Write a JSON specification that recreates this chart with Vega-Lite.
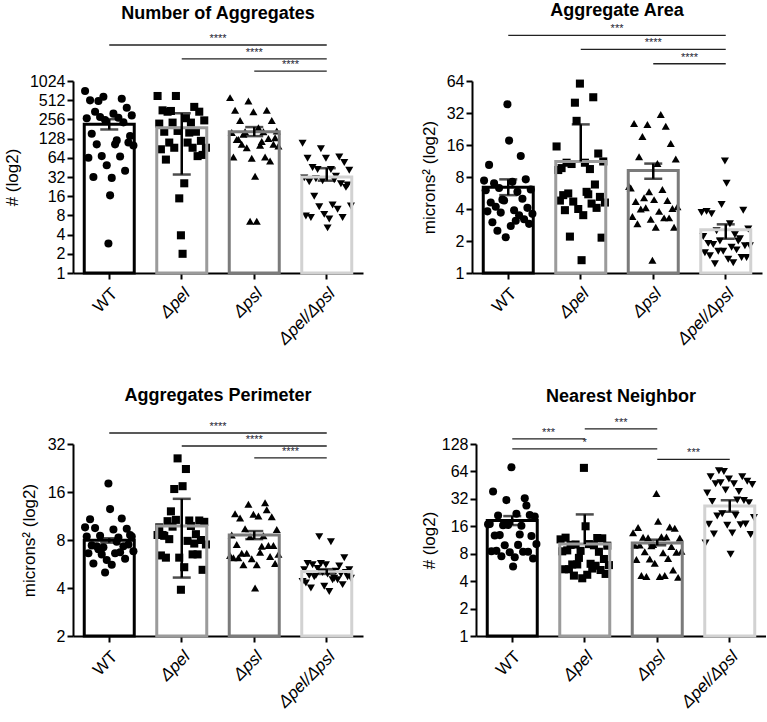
{
"$schema":"https://vega.github.io/schema/vega-lite/v6.json",
"padding":{"left":3,"top":2,"right":0,"bottom":0},
"config":{"font":"Liberation Sans","view":{"stroke":null},
"axis":{"domainColor":"black","domainWidth":2,"tickColor":"black","tickWidth":2,"tickSize":6,"labelColor":"black","labelFontSize":16,"titleFontSize":17,"titleFontWeight":"normal","titleColor":"black","grid":false,"titlePadding":8},
"axisX":{"labelFontSize":17},
"title":{"fontSize":18,"fontWeight":"bold","color":"black"}},
"datasets":{
"p1":[
{"g":"WT","v":714,"r":1},{"g":"WT","v":580,"r":12},{"g":"WT","v":541,"r":23},{"g":"WT","v":509,"r":4},{"g":"WT","v":498,"r":9},{"g":"WT","v":391,"r":26},{"g":"WT","v":338,"r":7},{"g":"WT","v":315,"r":18},{"g":"WT","v":296,"r":29},{"g":"WT","v":280,"r":10},{"g":"WT","v":272,"r":21},{"g":"WT","v":267,"r":2},{"g":"WT","v":250,"r":13},{"g":"WT","v":230,"r":24},{"g":"WT","v":153,"r":5},{"g":"WT","v":141,"r":28},{"g":"WT","v":111,"r":27},{"g":"WT","v":104,"r":8},{"g":"WT","v":104,"r":19},{"g":"WT","v":100,"r":30},{"g":"WT","v":68,"r":11},{"g":"WT","v":67,"r":22},{"g":"WT","v":64,"r":3},{"g":"WT","v":49,"r":14},{"g":"WT","v":40,"r":25},{"g":"WT","v":32,"r":6},{"g":"WT","v":31,"r":17},{"g":"WT","v":16.5,"r":16},{"g":"WT","v":2.9,"r":15},{"g":"WT","v":120,"r":20},
{"g":"Δpel","v":596,"r":1},{"g":"Δpel","v":596,"r":12},{"g":"Δpel","v":402,"r":23},{"g":"Δpel","v":355,"r":4},{"g":"Δpel","v":347,"r":9},{"g":"Δpel","v":338,"r":26},{"g":"Δpel","v":338,"r":7},{"g":"Δpel","v":267,"r":18},{"g":"Δpel","v":247,"r":29},{"g":"Δpel","v":228,"r":10},{"g":"Δpel","v":228,"r":21},{"g":"Δpel","v":220,"r":2},{"g":"Δpel","v":169,"r":13},{"g":"Δpel","v":164,"r":24},{"g":"Δpel","v":164,"r":5},{"g":"Δpel","v":159,"r":20},{"g":"Δpel","v":118,"r":27},{"g":"Δpel","v":111,"r":8},{"g":"Δpel","v":111,"r":19},{"g":"Δpel","v":92,"r":30},{"g":"Δpel","v":92,"r":11},{"g":"Δpel","v":92,"r":22},{"g":"Δpel","v":87,"r":3},{"g":"Δpel","v":71,"r":28},{"g":"Δpel","v":68,"r":25},{"g":"Δpel","v":60,"r":6},{"g":"Δpel","v":25.5,"r":17},{"g":"Δpel","v":14.8,"r":14},{"g":"Δpel","v":3.9,"r":15},{"g":"Δpel","v":2.0,"r":16},
{"g":"Δpsl","v":562,"r":1},{"g":"Δpsl","v":498,"r":12},{"g":"Δpsl","v":355,"r":23},{"g":"Δpsl","v":355,"r":4},{"g":"Δpsl","v":338,"r":15},{"g":"Δpsl","v":247,"r":26},{"g":"Δpsl","v":247,"r":7},{"g":"Δpsl","v":190,"r":18},{"g":"Δpsl","v":169,"r":29},{"g":"Δpsl","v":164,"r":10},{"g":"Δpsl","v":164,"r":21},{"g":"Δpsl","v":159,"r":2},{"g":"Δpsl","v":132,"r":28},{"g":"Δpsl","v":129,"r":24},{"g":"Δpsl","v":124,"r":5},{"g":"Δpsl","v":124,"r":6},{"g":"Δpsl","v":104,"r":27},{"g":"Δpsl","v":104,"r":8},{"g":"Δpsl","v":101,"r":19},{"g":"Δpsl","v":98,"r":30},{"g":"Δpsl","v":92,"r":11},{"g":"Δpsl","v":66,"r":22},{"g":"Δpsl","v":66,"r":3},{"g":"Δpsl","v":63,"r":14},{"g":"Δpsl","v":57,"r":25},{"g":"Δpsl","v":33,"r":16},{"g":"Δpsl","v":6.5,"r":17},{"g":"Δpsl","v":6.5,"r":13},{"g":"Δpsl","v":150,"r":9},{"g":"Δpsl","v":115,"r":20},
{"g":"Δpel/Δpsl","v":108,"r":1},{"g":"Δpel/Δpsl","v":89,"r":12},{"g":"Δpel/Δpsl","v":66,"r":23},{"g":"Δpel/Δpsl","v":63,"r":4},{"g":"Δpel/Δpsl","v":63,"r":15},{"g":"Δpel/Δpsl","v":54,"r":26},{"g":"Δpel/Δpsl","v":45,"r":7},{"g":"Δpel/Δpsl","v":42,"r":18},{"g":"Δpel/Δpsl","v":41,"r":29},{"g":"Δpel/Δpsl","v":42,"r":10},{"g":"Δpel/Δpsl","v":33,"r":21},{"g":"Δpel/Δpsl","v":31,"r":2},{"g":"Δpel/Δpsl","v":28,"r":13},{"g":"Δpel/Δpsl","v":25,"r":24},{"g":"Δpel/Δpsl","v":27,"r":5},{"g":"Δpel/Δpsl","v":24,"r":28},{"g":"Δpel/Δpsl","v":22,"r":27},{"g":"Δpel/Δpsl","v":16,"r":8},{"g":"Δpel/Δpsl","v":11.6,"r":19},{"g":"Δpel/Δpsl","v":11.2,"r":30},{"g":"Δpel/Δpsl","v":10.9,"r":11},{"g":"Δpel/Δpsl","v":10,"r":22},{"g":"Δpel/Δpsl","v":7.8,"r":3},{"g":"Δpel/Δpsl","v":8.3,"r":14},{"g":"Δpel/Δpsl","v":7.4,"r":25},{"g":"Δpel/Δpsl","v":7.4,"r":6},{"g":"Δpel/Δpsl","v":7.0,"r":17},{"g":"Δpel/Δpsl","v":5.1,"r":16},{"g":"Δpel/Δpsl","v":30,"r":9},{"g":"Δpel/Δpsl","v":29,"r":20}
],
"p1b":[{"g":"WT","mean":214,"lo":178,"hi":258},{"g":"Δpel","mean":190,"lo":35,"hi":320},{"g":"Δpsl","mean":164,"lo":140,"hi":194},{"g":"Δpel/Δpsl","mean":32,"lo":28,"hi":44}],
"p1s":[{"from":"WT","to":"Δpel/Δpsl","y":3755,"s":"****","mid":"Δpel","at":"b"},{"from":"Δpel","to":"Δpel/Δpsl","y":2272,"s":"****","mid":"Δpsl","at":"c"},{"from":"Δpsl","to":"Δpel/Δpsl","y":1466,"s":"****","mid":"Δpsl","at":"b"}],
"p2":[
{"g":"WT","v":38.6,"r":15},{"g":"WT","v":17.6,"r":16},{"g":"WT","v":12.6,"r":23},{"g":"WT","v":10.4,"r":4},{"g":"WT","v":7.4,"r":1},{"g":"WT","v":7.6,"r":26},{"g":"WT","v":7.0,"r":7},{"g":"WT","v":7.2,"r":18},{"g":"WT","v":6.1,"r":29},{"g":"WT","v":6.3,"r":10},{"g":"WT","v":5.8,"r":21},{"g":"WT","v":6.0,"r":2},{"g":"WT","v":4.8,"r":13},{"g":"WT","v":5.0,"r":24},{"g":"WT","v":4.6,"r":5},{"g":"WT","v":4.9,"r":12},{"g":"WT","v":4.1,"r":27},{"g":"WT","v":4.2,"r":8},{"g":"WT","v":3.9,"r":19},{"g":"WT","v":3.6,"r":30},{"g":"WT","v":3.7,"r":11},{"g":"WT","v":3.5,"r":22},{"g":"WT","v":3.8,"r":3},{"g":"WT","v":3.1,"r":20},{"g":"WT","v":3.2,"r":25},{"g":"WT","v":3.0,"r":6},{"g":"WT","v":2.77,"r":17},{"g":"WT","v":2.9,"r":28},{"g":"WT","v":2.5,"r":9},{"g":"WT","v":2.17,"r":14},
{"g":"Δpel","v":60.5,"r":15},{"g":"Δpel","v":45,"r":23},{"g":"Δpel","v":40,"r":12},{"g":"Δpel","v":27,"r":13},{"g":"Δpel","v":15.5,"r":1},{"g":"Δpel","v":13.3,"r":26},{"g":"Δpel","v":10.9,"r":7},{"g":"Δpel","v":10.9,"r":18},{"g":"Δpel","v":11.2,"r":29},{"g":"Δpel","v":10.6,"r":10},{"g":"Δpel","v":9.5,"r":21},{"g":"Δpel","v":9.3,"r":2},{"g":"Δpel","v":9.7,"r":4},{"g":"Δpel","v":6.8,"r":24},{"g":"Δpel","v":5.4,"r":5},{"g":"Δpel","v":5.5,"r":20},{"g":"Δpel","v":5.2,"r":27},{"g":"Δpel","v":5.6,"r":8},{"g":"Δpel","v":5.8,"r":19},{"g":"Δpel","v":4.6,"r":30},{"g":"Δpel","v":4.7,"r":11},{"g":"Δpel","v":4.5,"r":22},{"g":"Δpel","v":4.8,"r":3},{"g":"Δpel","v":4.0,"r":14},{"g":"Δpel","v":4.1,"r":25},{"g":"Δpel","v":3.9,"r":6},{"g":"Δpel","v":3.5,"r":17},{"g":"Δpel","v":2.15,"r":28},{"g":"Δpel","v":2.2,"r":9},{"g":"Δpel","v":1.32,"r":16},
{"g":"Δpsl","v":31,"r":20},{"g":"Δpsl","v":25,"r":12},{"g":"Δpsl","v":24,"r":23},{"g":"Δpsl","v":25.5,"r":4},{"g":"Δpsl","v":19.2,"r":9},{"g":"Δpsl","v":16.5,"r":26},{"g":"Δpsl","v":12.4,"r":7},{"g":"Δpsl","v":10.7,"r":18},{"g":"Δpsl","v":11.8,"r":29},{"g":"Δpsl","v":5.1,"r":10},{"g":"Δpsl","v":6.1,"r":21},{"g":"Δpsl","v":6.3,"r":2},{"g":"Δpsl","v":5.8,"r":13},{"g":"Δpsl","v":4.8,"r":24},{"g":"Δpsl","v":4.7,"r":5},{"g":"Δpsl","v":4.9,"r":16},{"g":"Δpsl","v":4.05,"r":27},{"g":"Δpsl","v":4.0,"r":8},{"g":"Δpsl","v":3.8,"r":19},{"g":"Δpsl","v":4.2,"r":30},{"g":"Δpsl","v":4.1,"r":11},{"g":"Δpsl","v":3.3,"r":22},{"g":"Δpsl","v":3.4,"r":3},{"g":"Δpsl","v":3.2,"r":14},{"g":"Δpsl","v":3.3,"r":25},{"g":"Δpsl","v":2.9,"r":6},{"g":"Δpsl","v":2.7,"r":17},{"g":"Δpsl","v":2.7,"r":28},{"g":"Δpsl","v":1.32,"r":15},{"g":"Δpsl","v":6.5,"r":1},
{"g":"Δpel/Δpsl","v":11.3,"r":15},{"g":"Δpel/Δpsl","v":7.0,"r":16},{"g":"Δpel/Δpsl","v":4.4,"r":13},{"g":"Δpel/Δpsl","v":3.8,"r":4},{"g":"Δpel/Δpsl","v":3.7,"r":1},{"g":"Δpel/Δpsl","v":3.9,"r":26},{"g":"Δpel/Δpsl","v":3.6,"r":7},{"g":"Δpel/Δpsl","v":2.9,"r":18},{"g":"Δpel/Δpsl","v":2.6,"r":29},{"g":"Δpel/Δpsl","v":2.5,"r":10},{"g":"Δpel/Δpsl","v":2.3,"r":21},{"g":"Δpel/Δpsl","v":2.2,"r":2},{"g":"Δpel/Δpsl","v":2.0,"r":23},{"g":"Δpel/Δpsl","v":2.1,"r":24},{"g":"Δpel/Δpsl","v":1.9,"r":5},{"g":"Δpel/Δpsl","v":2.0,"r":12},{"g":"Δpel/Δpsl","v":1.8,"r":27},{"g":"Δpel/Δpsl","v":1.85,"r":8},{"g":"Δpel/Δpsl","v":1.75,"r":19},{"g":"Δpel/Δpsl","v":1.8,"r":30},{"g":"Δpel/Δpsl","v":1.6,"r":11},{"g":"Δpel/Δpsl","v":1.65,"r":22},{"g":"Δpel/Δpsl","v":1.55,"r":3},{"g":"Δpel/Δpsl","v":1.6,"r":14},{"g":"Δpel/Δpsl","v":1.4,"r":25},{"g":"Δpel/Δpsl","v":1.45,"r":6},{"g":"Δpel/Δpsl","v":1.35,"r":17},{"g":"Δpel/Δpsl","v":1.4,"r":28},{"g":"Δpel/Δpsl","v":1.22,"r":9},{"g":"Δpel/Δpsl","v":1.25,"r":20}
],
"p2b":[{"g":"WT","mean":6.4,"lo":5.4,"hi":7.6},{"g":"Δpel","mean":11.2,"lo":11.2,"hi":25},{"g":"Δpsl","mean":9.2,"lo":7.7,"hi":10.7},{"g":"Δpel/Δpsl","mean":2.55,"lo":2.1,"hi":2.87}],
"p2s":[{"from":"WT","to":"Δpel/Δpsl","y":172,"s":"***","mid":"Δpel","at":"b"},{"from":"Δpel","to":"Δpel/Δpsl","y":127,"s":"****","mid":"Δpsl","at":"c"},{"from":"Δpsl","to":"Δpel/Δpsl","y":93,"s":"****","mid":"Δpsl","at":"b"}],
"p3":[
{"g":"WT","v":18.1,"r":15},{"g":"WT","v":12.5,"r":16},{"g":"WT","v":10.9,"r":23},{"g":"WT","v":10.8,"r":4},{"g":"WT","v":9.6,"r":1},{"g":"WT","v":9.4,"r":26},{"g":"WT","v":9.5,"r":7},{"g":"WT","v":9.3,"r":18},{"g":"WT","v":8.4,"r":29},{"g":"WT","v":8.5,"r":10},{"g":"WT","v":8.3,"r":21},{"g":"WT","v":8.4,"r":2},{"g":"WT","v":8.6,"r":28},{"g":"WT","v":7.3,"r":24},{"g":"WT","v":7.4,"r":5},{"g":"WT","v":7.2,"r":12},{"g":"WT","v":7.5,"r":27},{"g":"WT","v":7.3,"r":8},{"g":"WT","v":6.6,"r":19},{"g":"WT","v":6.8,"r":30},{"g":"WT","v":6.5,"r":11},{"g":"WT","v":6.7,"r":22},{"g":"WT","v":6.6,"r":3},{"g":"WT","v":6.0,"r":14},{"g":"WT","v":6.1,"r":25},{"g":"WT","v":5.7,"r":6},{"g":"WT","v":5.6,"r":17},{"g":"WT","v":5.0,"r":13},{"g":"WT","v":7.0,"r":9},{"g":"WT","v":7.8,"r":20},
{"g":"Δpel","v":26,"r":13},{"g":"Δpel","v":22.3,"r":18},{"g":"Δpel","v":16.7,"r":11},{"g":"Δpel","v":17.4,"r":16},{"g":"Δpel","v":12.1,"r":9},{"g":"Δpel","v":10.6,"r":26},{"g":"Δpel","v":10.5,"r":7},{"g":"Δpel","v":10.7,"r":12},{"g":"Δpel","v":10.4,"r":29},{"g":"Δpel","v":9.7,"r":10},{"g":"Δpel","v":9.8,"r":21},{"g":"Δpel","v":9.6,"r":2},{"g":"Δpel","v":8.6,"r":1},{"g":"Δpel","v":8.7,"r":24},{"g":"Δpel","v":8.5,"r":5},{"g":"Δpel","v":8.6,"r":4},{"g":"Δpel","v":8.0,"r":27},{"g":"Δpel","v":8.1,"r":8},{"g":"Δpel","v":7.9,"r":19},{"g":"Δpel","v":7.5,"r":30},{"g":"Δpel","v":7.6,"r":23},{"g":"Δpel","v":6.5,"r":22},{"g":"Δpel","v":6.4,"r":3},{"g":"Δpel","v":6.2,"r":14},{"g":"Δpel","v":6.5,"r":25},{"g":"Δpel","v":6.2,"r":6},{"g":"Δpel","v":5.4,"r":17},{"g":"Δpel","v":5.2,"r":28},{"g":"Δpel","v":3.9,"r":15},{"g":"Δpel","v":10.6,"r":20},
{"g":"Δpsl","v":13.7,"r":22},{"g":"Δpsl","v":13.4,"r":12},{"g":"Δpsl","v":12.4,"r":23},{"g":"Δpsl","v":11.7,"r":4},{"g":"Δpsl","v":11.6,"r":15},{"g":"Δpsl","v":11.2,"r":26},{"g":"Δpsl","v":11.0,"r":7},{"g":"Δpsl","v":11.3,"r":18},{"g":"Δpsl","v":9.3,"r":29},{"g":"Δpsl","v":9.4,"r":10},{"g":"Δpsl","v":8.5,"r":21},{"g":"Δpsl","v":8.6,"r":2},{"g":"Δpsl","v":8.4,"r":13},{"g":"Δpsl","v":7.4,"r":24},{"g":"Δpsl","v":7.5,"r":5},{"g":"Δpsl","v":7.3,"r":20},{"g":"Δpsl","v":7.4,"r":27},{"g":"Δpsl","v":6.6,"r":8},{"g":"Δpsl","v":6.7,"r":19},{"g":"Δpsl","v":6.5,"r":30},{"g":"Δpsl","v":6.6,"r":11},{"g":"Δpsl","v":6.4,"r":1},{"g":"Δpsl","v":6.2,"r":3},{"g":"Δpsl","v":6.1,"r":14},{"g":"Δpsl","v":6.3,"r":25},{"g":"Δpsl","v":6.2,"r":6},{"g":"Δpsl","v":5.6,"r":17},{"g":"Δpsl","v":5.7,"r":28},{"g":"Δpsl","v":5.6,"r":9},{"g":"Δpsl","v":4.0,"r":16},
{"g":"Δpel/Δpsl","v":8.4,"r":11},{"g":"Δpel/Δpsl","v":7.8,"r":18},{"g":"Δpel/Δpsl","v":6.2,"r":26},{"g":"Δpel/Δpsl","v":5.7,"r":4},{"g":"Δpel/Δpsl","v":5.6,"r":15},{"g":"Δpel/Δpsl","v":5.5,"r":23},{"g":"Δpel/Δpsl","v":5.6,"r":7},{"g":"Δpel/Δpsl","v":5.7,"r":12},{"g":"Δpel/Δpsl","v":5.2,"r":29},{"g":"Δpel/Δpsl","v":5.3,"r":10},{"g":"Δpel/Δpsl","v":5.1,"r":21},{"g":"Δpel/Δpsl","v":5.2,"r":2},{"g":"Δpel/Δpsl","v":5.0,"r":13},{"g":"Δpel/Δpsl","v":4.9,"r":24},{"g":"Δpel/Δpsl","v":4.8,"r":5},{"g":"Δpel/Δpsl","v":4.9,"r":16},{"g":"Δpel/Δpsl","v":5.0,"r":27},{"g":"Δpel/Δpsl","v":4.7,"r":8},{"g":"Δpel/Δpsl","v":4.5,"r":19},{"g":"Δpel/Δpsl","v":4.6,"r":30},{"g":"Δpel/Δpsl","v":4.4,"r":1},{"g":"Δpel/Δpsl","v":4.5,"r":22},{"g":"Δpel/Δpsl","v":4.3,"r":3},{"g":"Δpel/Δpsl","v":4.1,"r":14},{"g":"Δpel/Δpsl","v":4.2,"r":25},{"g":"Δpel/Δpsl","v":4.0,"r":6},{"g":"Δpel/Δpsl","v":3.8,"r":17},{"g":"Δpel/Δpsl","v":4.7,"r":28},{"g":"Δpel/Δpsl","v":4.8,"r":9},{"g":"Δpel/Δpsl","v":4.6,"r":20}
],
"p3b":[{"g":"WT","mean":7.96,"lo":7.7,"hi":8.2},{"g":"Δpel","mean":9.8,"lo":4.65,"hi":14.5},{"g":"Δpsl","mean":8.6,"lo":8.1,"hi":9.1},{"g":"Δpel/Δpsl","mean":5.07,"lo":4.9,"hi":5.25}],
"p3s":[{"from":"WT","to":"Δpel/Δpsl","y":37.5,"s":"****","mid":"Δpel","at":"b"},{"from":"Δpel","to":"Δpel/Δpsl","y":31.1,"s":"****","mid":"Δpsl","at":"c"},{"from":"Δpsl","to":"Δpel/Δpsl","y":26.2,"s":"****","mid":"Δpsl","at":"b"}],
"p4":[
{"g":"WT","v":71,"r":15},{"g":"WT","v":38.6,"r":4},{"g":"WT","v":31,"r":12},{"g":"WT","v":32.5,"r":23},{"g":"WT","v":27,"r":24},{"g":"WT","v":21.3,"r":26},{"g":"WT","v":21,"r":7},{"g":"WT","v":22,"r":18},{"g":"WT","v":20.5,"r":29},{"g":"WT","v":16.4,"r":10},{"g":"WT","v":16.2,"r":21},{"g":"WT","v":17,"r":2},{"g":"WT","v":16.5,"r":13},{"g":"WT","v":16.8,"r":1},{"g":"WT","v":12.7,"r":5},{"g":"WT","v":13,"r":20},{"g":"WT","v":12.5,"r":27},{"g":"WT","v":12.8,"r":8},{"g":"WT","v":10,"r":19},{"g":"WT","v":10.2,"r":30},{"g":"WT","v":9.9,"r":11},{"g":"WT","v":8.4,"r":22},{"g":"WT","v":8.5,"r":3},{"g":"WT","v":8.3,"r":14},{"g":"WT","v":8.4,"r":25},{"g":"WT","v":8.6,"r":6},{"g":"WT","v":7.3,"r":17},{"g":"WT","v":7.1,"r":28},{"g":"WT","v":7.5,"r":9},{"g":"WT","v":5.8,"r":16},
{"g":"Δpel","v":70,"r":15},{"g":"Δpel","v":16,"r":16},{"g":"Δpel","v":11.9,"r":23},{"g":"Δpel","v":12,"r":4},{"g":"Δpel","v":11.5,"r":1},{"g":"Δpel","v":11.8,"r":26},{"g":"Δpel","v":10,"r":7},{"g":"Δpel","v":10.2,"r":18},{"g":"Δpel","v":9.8,"r":29},{"g":"Δpel","v":10.1,"r":10},{"g":"Δpel","v":9.9,"r":21},{"g":"Δpel","v":8.5,"r":2},{"g":"Δpel","v":8.6,"r":13},{"g":"Δpel","v":8.4,"r":24},{"g":"Δpel","v":8.7,"r":5},{"g":"Δpel","v":7.2,"r":12},{"g":"Δpel","v":7.0,"r":27},{"g":"Δpel","v":6.1,"r":8},{"g":"Δpel","v":6.2,"r":19},{"g":"Δpel","v":6.0,"r":30},{"g":"Δpel","v":6.1,"r":11},{"g":"Δpel","v":5.9,"r":22},{"g":"Δpel","v":5.4,"r":3},{"g":"Δpel","v":5.5,"r":20},{"g":"Δpel","v":5.3,"r":25},{"g":"Δpel","v":5.4,"r":6},{"g":"Δpel","v":4.7,"r":17},{"g":"Δpel","v":4.8,"r":28},{"g":"Δpel","v":4.6,"r":9},{"g":"Δpel","v":4.3,"r":14},
{"g":"Δpsl","v":36.6,"r":15},{"g":"Δpsl","v":18.2,"r":16},{"g":"Δpsl","v":15.7,"r":23},{"g":"Δpsl","v":15.5,"r":4},{"g":"Δpsl","v":13.6,"r":1},{"g":"Δpsl","v":15.2,"r":26},{"g":"Δpsl","v":12.1,"r":7},{"g":"Δpsl","v":12.3,"r":18},{"g":"Δpsl","v":11.9,"r":29},{"g":"Δpsl","v":12.0,"r":10},{"g":"Δpsl","v":12.2,"r":21},{"g":"Δpsl","v":9.9,"r":2},{"g":"Δpsl","v":10.1,"r":13},{"g":"Δpsl","v":9.6,"r":24},{"g":"Δpsl","v":10.0,"r":5},{"g":"Δpsl","v":9.8,"r":12},{"g":"Δpsl","v":8.3,"r":27},{"g":"Δpsl","v":8.4,"r":8},{"g":"Δpsl","v":8.2,"r":19},{"g":"Δpsl","v":8.5,"r":30},{"g":"Δpsl","v":7.0,"r":11},{"g":"Δpsl","v":7.1,"r":22},{"g":"Δpsl","v":6.9,"r":3},{"g":"Δpsl","v":6.3,"r":14},{"g":"Δpsl","v":5.3,"r":25},{"g":"Δpsl","v":4.6,"r":6},{"g":"Δpsl","v":4.5,"r":17},{"g":"Δpsl","v":4.4,"r":28},{"g":"Δpsl","v":4.5,"r":9},{"g":"Δpsl","v":4.6,"r":20},
{"g":"Δpel/Δpsl","v":65,"r":9},{"g":"Δpel/Δpsl","v":64,"r":12},{"g":"Δpel/Δpsl","v":56,"r":23},{"g":"Δpel/Δpsl","v":56,"r":4},{"g":"Δpel/Δpsl","v":53,"r":15},{"g":"Δpel/Δpsl","v":50,"r":26},{"g":"Δpel/Δpsl","v":47,"r":7},{"g":"Δpel/Δpsl","v":47,"r":18},{"g":"Δpel/Δpsl","v":46,"r":29},{"g":"Δpel/Δpsl","v":48,"r":10},{"g":"Δpel/Δpsl","v":38.6,"r":21},{"g":"Δpel/Δpsl","v":37,"r":2},{"g":"Δpel/Δpsl","v":40,"r":13},{"g":"Δpel/Δpsl","v":30.7,"r":24},{"g":"Δpel/Δpsl","v":30,"r":5},{"g":"Δpel/Δpsl","v":31,"r":20},{"g":"Δpel/Δpsl","v":29,"r":27},{"g":"Δpel/Δpsl","v":20.8,"r":8},{"g":"Δpel/Δpsl","v":21,"r":19},{"g":"Δpel/Δpsl","v":20,"r":30},{"g":"Δpel/Δpsl","v":22,"r":11},{"g":"Δpel/Δpsl","v":16.6,"r":22},{"g":"Δpel/Δpsl","v":16.8,"r":3},{"g":"Δpel/Δpsl","v":16.4,"r":14},{"g":"Δpel/Δpsl","v":17,"r":25},{"g":"Δpel/Δpsl","v":13.2,"r":6},{"g":"Δpel/Δpsl","v":13.5,"r":17},{"g":"Δpel/Δpsl","v":13,"r":28},{"g":"Δpel/Δpsl","v":10.5,"r":1},{"g":"Δpel/Δpsl","v":7.9,"r":16}
],
"p4b":[{"g":"WT","mean":18.5,"lo":16.5,"hi":20.7},{"g":"Δpel","mean":10.2,"lo":10.2,"hi":21.6},{"g":"Δpsl","mean":10.5,"lo":9.9,"hi":11.4},{"g":"Δpel/Δpsl","mean":26.7,"lo":23.1,"hi":30.9}],
"p4s":[{"from":"WT","to":"Δpel","y":146,"s":"***","mid":"WT","at":"b"},{"from":"Δpel","to":"Δpsl","y":188,"s":"***","mid":"Δpel","at":"b"},{"from":"WT","to":"Δpsl","y":113,"s":"*","mid":"Δpel","at":"c"},{"from":"Δpsl","to":"Δpel/Δpsl","y":87,"s":"***","mid":"Δpsl","at":"b"}]
},
"columns":2,
"align":"none",
"spacing":{"row":39,"column":57},
"concat":[
{"title":{"text":"Number of Aggregates","offset":10},"width":290,"height":192,"layer":[
{"data":{"name":"p1b"},"mark":{"type":"bar","fill":"white","width":50},"encoding":{"x":{"field":"g","type":"nominal","scale":{"type":"band","domain":["WT","Δpel","Δpsl","Δpel/Δpsl"],"paddingInner":0.31,"paddingOuter":0.155},"axis":{"title":null,"labelAngle":-45,"labelPadding":6,"labelFontStyle":{"condition":{"test":"datum.value !== 'WT'","value":"italic"},"value":"normal"}}},"y":{"field":"mean","type":"quantitative","scale":{"type":"log","base":2,"domain":[1,1024],"nice":false},"axis":{"title":"# (log2)","values":[1,2,4,8,16,32,64,128,256,512,1024],"format":"d"}},"y2":{"datum":1}}},
{"data":{"name":"p1"},"mark":{"type":"point","filled":true,"size":65,"color":"black","opacity":1},"encoding":{"x":{"field":"g","type":"nominal"},"xOffset":{"field":"r","type":"ordinal"},"y":{"field":"v","type":"quantitative"},"shape":{"field":"g","type":"nominal","scale":{"domain":["WT","Δpel","Δpsl","Δpel/Δpsl"],"range":["circle","square","triangle-up","triangle-down"]},"legend":null}}},
{"data":{"name":"p1b"},"mark":{"type":"bar","filled":false,"strokeWidth":3,"width":50},"encoding":{"x":{"field":"g","type":"nominal"},"y":{"field":"mean","type":"quantitative"},"y2":{"datum":1},"stroke":{"field":"g","type":"nominal","scale":{"domain":["WT","Δpel","Δpsl","Δpel/Δpsl"],"range":["#000000","#9b9b9b","#7b7b7b","#d2d2d2"]},"legend":null}}},
{"data":{"name":"p1b"},"mark":{"type":"rule","strokeWidth":2.5,"color":"black"},"encoding":{"x":{"field":"g","type":"nominal"},"y":{"field":"hi","type":"quantitative"},"y2":{"field":"lo"}}},
{"data":{"name":"p1b"},"mark":{"type":"tick","thickness":2.5,"size":18,"color":"black","orient":"horizontal"},"encoding":{"x":{"field":"g","type":"nominal"},"y":{"field":"hi","type":"quantitative"}}},
{"data":{"name":"p1b"},"transform":[{"filter":"datum.lo < datum.mean"}],"mark":{"type":"tick","thickness":2.5,"size":18,"color":"black","orient":"horizontal"},"encoding":{"x":{"field":"g","type":"nominal"},"y":{"field":"lo","type":"quantitative"}}},
{"data":{"name":"p1s"},"mark":{"type":"rule","strokeWidth":1.3,"color":"#222222"},"encoding":{"x":{"field":"from","type":"nominal"},"x2":{"field":"to"},"y":{"field":"y","type":"quantitative"}}},
{"data":{"name":"p1s"},"transform":[{"filter":"datum.at == 'c'"}],"mark":{"type":"text","baseline":"bottom","dy":-1,"fontSize":11,"color":"#222233"},"encoding":{"x":{"field":"mid","type":"nominal"},"y":{"field":"y","type":"quantitative"},"text":{"field":"s"}}},
{"data":{"name":"p1s"},"transform":[{"filter":"datum.at == 'b'"}],"mark":{"type":"text","baseline":"bottom","dy":-1,"fontSize":11,"color":"#222233"},"encoding":{"x":{"field":"mid","type":"nominal","bandPosition":1.225},"y":{"field":"y","type":"quantitative"},"text":{"field":"s"}}}
]},
{"title":{"text":"Aggregate Area","offset":3},"width":290,"height":192,"layer":[
{"data":{"name":"p2b"},"mark":{"type":"bar","fill":"white","width":50},"encoding":{"x":{"field":"g","type":"nominal","scale":{"type":"band","domain":["WT","Δpel","Δpsl","Δpel/Δpsl"],"paddingInner":0.31,"paddingOuter":0.155},"axis":{"title":null,"labelAngle":-45,"labelPadding":6,"labelFontStyle":{"condition":{"test":"datum.value !== 'WT'","value":"italic"},"value":"normal"}}},"y":{"field":"mean","type":"quantitative","scale":{"type":"log","base":2,"domain":[1,64],"nice":false},"axis":{"title":"microns² (log2)","values":[1,2,4,8,16,32,64],"format":"d"}},"y2":{"datum":1}}},
{"data":{"name":"p2"},"mark":{"type":"point","filled":true,"size":65,"color":"black","opacity":1},"encoding":{"x":{"field":"g","type":"nominal"},"xOffset":{"field":"r","type":"ordinal"},"y":{"field":"v","type":"quantitative"},"shape":{"field":"g","type":"nominal","scale":{"domain":["WT","Δpel","Δpsl","Δpel/Δpsl"],"range":["circle","square","triangle-up","triangle-down"]},"legend":null}}},
{"data":{"name":"p2b"},"mark":{"type":"bar","filled":false,"strokeWidth":3,"width":50},"encoding":{"x":{"field":"g","type":"nominal"},"y":{"field":"mean","type":"quantitative"},"y2":{"datum":1},"stroke":{"field":"g","type":"nominal","scale":{"domain":["WT","Δpel","Δpsl","Δpel/Δpsl"],"range":["#000000","#9b9b9b","#7b7b7b","#d2d2d2"]},"legend":null}}},
{"data":{"name":"p2b"},"mark":{"type":"rule","strokeWidth":2.5,"color":"black"},"encoding":{"x":{"field":"g","type":"nominal"},"y":{"field":"hi","type":"quantitative"},"y2":{"field":"lo"}}},
{"data":{"name":"p2b"},"mark":{"type":"tick","thickness":2.5,"size":18,"color":"black","orient":"horizontal"},"encoding":{"x":{"field":"g","type":"nominal"},"y":{"field":"hi","type":"quantitative"}}},
{"data":{"name":"p2b"},"transform":[{"filter":"datum.lo < datum.mean"}],"mark":{"type":"tick","thickness":2.5,"size":18,"color":"black","orient":"horizontal"},"encoding":{"x":{"field":"g","type":"nominal"},"y":{"field":"lo","type":"quantitative"}}},
{"data":{"name":"p2s"},"mark":{"type":"rule","strokeWidth":1.3,"color":"#222222"},"encoding":{"x":{"field":"from","type":"nominal"},"x2":{"field":"to"},"y":{"field":"y","type":"quantitative"}}},
{"data":{"name":"p2s"},"transform":[{"filter":"datum.at == 'c'"}],"mark":{"type":"text","baseline":"bottom","dy":-1,"fontSize":11,"color":"#222233"},"encoding":{"x":{"field":"mid","type":"nominal"},"y":{"field":"y","type":"quantitative"},"text":{"field":"s"}}},
{"data":{"name":"p2s"},"transform":[{"filter":"datum.at == 'b'"}],"mark":{"type":"text","baseline":"bottom","dy":-1,"fontSize":11,"color":"#222233"},"encoding":{"x":{"field":"mid","type":"nominal","bandPosition":1.225},"y":{"field":"y","type":"quantitative"},"text":{"field":"s"}}}
]},
{"title":{"text":"Aggregates Perimeter","offset":16},"width":290,"height":192,"layer":[
{"data":{"name":"p3b"},"mark":{"type":"bar","fill":"white","width":50},"encoding":{"x":{"field":"g","type":"nominal","scale":{"type":"band","domain":["WT","Δpel","Δpsl","Δpel/Δpsl"],"paddingInner":0.31,"paddingOuter":0.155},"axis":{"title":null,"labelAngle":-45,"labelPadding":6,"labelFontStyle":{"condition":{"test":"datum.value !== 'WT'","value":"italic"},"value":"normal"}}},"y":{"field":"mean","type":"quantitative","scale":{"type":"log","base":2,"domain":[2,32],"nice":false},"axis":{"title":"microns² (log2)","titlePadding":9,"values":[2,4,8,16,32],"format":"d"}},"y2":{"datum":2}}},
{"data":{"name":"p3"},"mark":{"type":"point","filled":true,"size":65,"color":"black","opacity":1},"encoding":{"x":{"field":"g","type":"nominal"},"xOffset":{"field":"r","type":"ordinal"},"y":{"field":"v","type":"quantitative"},"shape":{"field":"g","type":"nominal","scale":{"domain":["WT","Δpel","Δpsl","Δpel/Δpsl"],"range":["circle","square","triangle-up","triangle-down"]},"legend":null}}},
{"data":{"name":"p3b"},"mark":{"type":"bar","filled":false,"strokeWidth":3,"width":50},"encoding":{"x":{"field":"g","type":"nominal"},"y":{"field":"mean","type":"quantitative"},"y2":{"datum":2},"stroke":{"field":"g","type":"nominal","scale":{"domain":["WT","Δpel","Δpsl","Δpel/Δpsl"],"range":["#000000","#9b9b9b","#7b7b7b","#d2d2d2"]},"legend":null}}},
{"data":{"name":"p3b"},"mark":{"type":"rule","strokeWidth":2.5,"color":"black"},"encoding":{"x":{"field":"g","type":"nominal"},"y":{"field":"hi","type":"quantitative"},"y2":{"field":"lo"}}},
{"data":{"name":"p3b"},"mark":{"type":"tick","thickness":2.5,"size":18,"color":"black","orient":"horizontal"},"encoding":{"x":{"field":"g","type":"nominal"},"y":{"field":"hi","type":"quantitative"}}},
{"data":{"name":"p3b"},"transform":[{"filter":"datum.lo < datum.mean"}],"mark":{"type":"tick","thickness":2.5,"size":18,"color":"black","orient":"horizontal"},"encoding":{"x":{"field":"g","type":"nominal"},"y":{"field":"lo","type":"quantitative"}}},
{"data":{"name":"p3s"},"mark":{"type":"rule","strokeWidth":1.3,"color":"#222222"},"encoding":{"x":{"field":"from","type":"nominal"},"x2":{"field":"to"},"y":{"field":"y","type":"quantitative"}}},
{"data":{"name":"p3s"},"transform":[{"filter":"datum.at == 'c'"}],"mark":{"type":"text","baseline":"bottom","dy":-1,"fontSize":11,"color":"#222233"},"encoding":{"x":{"field":"mid","type":"nominal"},"y":{"field":"y","type":"quantitative"},"text":{"field":"s"}}},
{"data":{"name":"p3s"},"transform":[{"filter":"datum.at == 'b'"}],"mark":{"type":"text","baseline":"bottom","dy":-1,"fontSize":11,"color":"#222233"},"encoding":{"x":{"field":"mid","type":"nominal","bandPosition":1.225},"y":{"field":"y","type":"quantitative"},"text":{"field":"s"}}}
]},
{"title":{"text":"Nearest Neighbor","offset":11},"width":290,"height":192,"layer":[
{"data":{"name":"p4b"},"mark":{"type":"bar","fill":"white","width":50},"encoding":{"x":{"field":"g","type":"nominal","scale":{"type":"band","domain":["WT","Δpel","Δpsl","Δpel/Δpsl"],"paddingInner":0.31,"paddingOuter":0.155},"axis":{"title":null,"labelAngle":-45,"labelPadding":6,"labelFontStyle":{"condition":{"test":"datum.value !== 'WT'","value":"italic"},"value":"normal"}}},"y":{"field":"mean","type":"quantitative","scale":{"type":"log","base":2,"domain":[1,128],"nice":false},"axis":{"title":"# (log2)","titlePadding":3,"values":[1,2,4,8,16,32,64,128],"format":"d"}},"y2":{"datum":1}}},
{"data":{"name":"p4"},"mark":{"type":"point","filled":true,"size":65,"color":"black","opacity":1},"encoding":{"x":{"field":"g","type":"nominal"},"xOffset":{"field":"r","type":"ordinal"},"y":{"field":"v","type":"quantitative"},"shape":{"field":"g","type":"nominal","scale":{"domain":["WT","Δpel","Δpsl","Δpel/Δpsl"],"range":["circle","square","triangle-up","triangle-down"]},"legend":null}}},
{"data":{"name":"p4b"},"mark":{"type":"bar","filled":false,"strokeWidth":3,"width":50},"encoding":{"x":{"field":"g","type":"nominal"},"y":{"field":"mean","type":"quantitative"},"y2":{"datum":1},"stroke":{"field":"g","type":"nominal","scale":{"domain":["WT","Δpel","Δpsl","Δpel/Δpsl"],"range":["#000000","#9b9b9b","#7b7b7b","#d2d2d2"]},"legend":null}}},
{"data":{"name":"p4b"},"mark":{"type":"rule","strokeWidth":2.5,"color":"black"},"encoding":{"x":{"field":"g","type":"nominal"},"y":{"field":"hi","type":"quantitative"},"y2":{"field":"lo"}}},
{"data":{"name":"p4b"},"mark":{"type":"tick","thickness":2.5,"size":18,"color":"black","orient":"horizontal"},"encoding":{"x":{"field":"g","type":"nominal"},"y":{"field":"hi","type":"quantitative"}}},
{"data":{"name":"p4b"},"transform":[{"filter":"datum.lo < datum.mean"}],"mark":{"type":"tick","thickness":2.5,"size":18,"color":"black","orient":"horizontal"},"encoding":{"x":{"field":"g","type":"nominal"},"y":{"field":"lo","type":"quantitative"}}},
{"data":{"name":"p4s"},"mark":{"type":"rule","strokeWidth":1.3,"color":"#222222"},"encoding":{"x":{"field":"from","type":"nominal"},"x2":{"field":"to"},"y":{"field":"y","type":"quantitative"}}},
{"data":{"name":"p4s"},"transform":[{"filter":"datum.at == 'c'"}],"mark":{"type":"text","baseline":"bottom","dy":-1,"fontSize":11,"color":"#222233"},"encoding":{"x":{"field":"mid","type":"nominal"},"y":{"field":"y","type":"quantitative"},"text":{"field":"s"}}},
{"data":{"name":"p4s"},"transform":[{"filter":"datum.at == 'b'"}],"mark":{"type":"text","baseline":"bottom","dy":-1,"fontSize":11,"color":"#222233"},"encoding":{"x":{"field":"mid","type":"nominal","bandPosition":1.225},"y":{"field":"y","type":"quantitative"},"text":{"field":"s"}}}
]}
]
}
